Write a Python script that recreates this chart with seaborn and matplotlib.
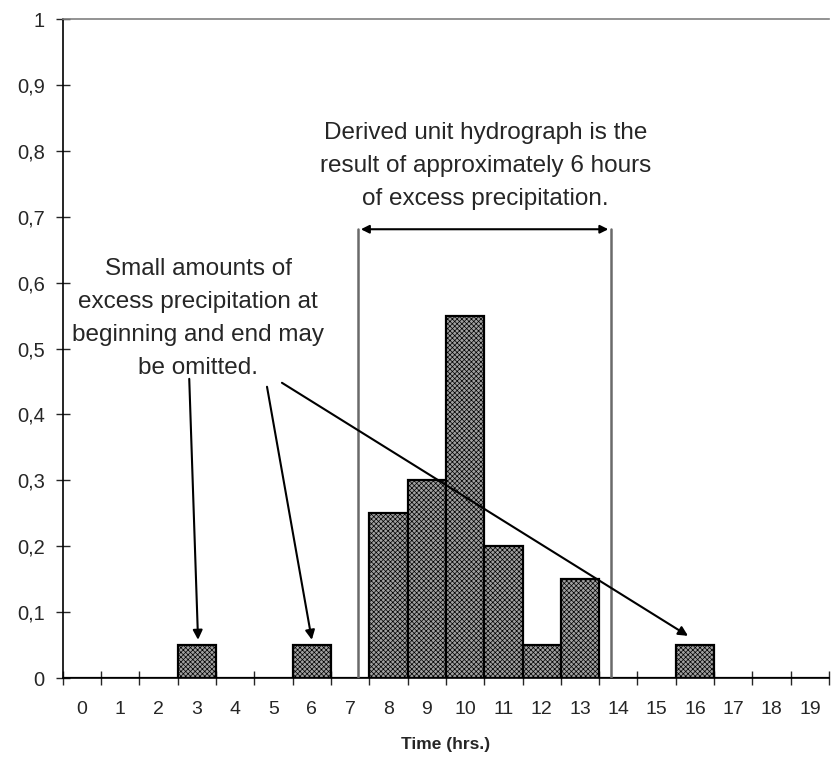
import matplotlib
matplotlib.use("Agg")
import matplotlib.pyplot as plt
import seaborn as sns
import pandas as pd
from matplotlib.ticker import FuncFormatter, FixedLocator

times = list(range(20))
excess = [0, 0, 0, 0.05, 0, 0, 0.05, 0, 0.25, 0.30, 0.55, 0.20, 0.05, 0.15, 0, 0, 0.05, 0, 0, 0]
y_ticks = [0, 0.1, 0.2, 0.3, 0.4, 0.5, 0.6, 0.7, 0.8, 0.9, 1.0]
note_right = "Derived unit hydrograph is the\nresult of approximately 6 hours\nof excess precipitation."
note_left = "Small amounts of\nexcess precipitation at\nbeginning and end may\nbe omitted."
x_label = "Time (hrs.)"

sns.set_style("white")
plt.rcParams['font.family'] = ['Liberation Sans', 'DejaVu Sans']
plt.rcParams['hatch.color'] = '#5c5c5c'
plt.rcParams['hatch.linewidth'] = 0.5

df = pd.DataFrame({"time": [str(t) for t in times], "excess": excess})

fig = plt.figure(figsize=(8.32, 7.58), dpi=100)
ax = fig.add_axes([0.0755, 0.1055, 0.9209, 0.8694])

sns.barplot(data=df, x="time", y="excess", order=[str(t) for t in times],
            color="#a0a0a0", width=1.0, edgecolor="black", linewidth=1.6,
            saturation=1, ax=ax)
for p in ax.patches:
    p.set_hatch("xxxxxxx")
    p.set_edgecolor("black")

ax.set_xlim(-0.5, 19.5)
ax.set_ylim(0, 1)

ax.set_yticks(y_ticks)
def fmt(v, pos):
    if abs(v - round(v)) < 1e-9:
        return str(int(round(v)))
    return ("%.1f" % v).replace(".", ",")
ax.yaxis.set_major_formatter(FuncFormatter(fmt))
ax.tick_params(axis="y", direction="inout", length=10, width=1, labelsize=14.5, pad=8, left=True)

ax.xaxis.set_minor_locator(FixedLocator([i + 0.5 for i in range(-1, 20)]))
ax.tick_params(axis="x", which="major", length=0, labelsize=14, pad=16.5)
ax.tick_params(axis="x", which="minor", direction="inout", length=10, width=1, bottom=True)

for s in ["left", "bottom"]:
    ax.spines[s].set_color("black")
    ax.spines[s].set_linewidth(1.2)
ax.spines["top"].set_color("#808080")
ax.spines["top"].set_linewidth(1.2)
ax.spines["right"].set_visible(False)

ax.set_xlabel(x_label, fontsize=12.5, fontweight="bold", labelpad=14)
ax.set_ylabel("")

# vertical bracket lines and double arrow
for xv in [7.21, 13.81]:
    ax.plot([xv, xv], [0, 0.681], color="#6a6a6a", lw=1.8, zorder=3)
ax.annotate("", xy=(7.28, 0.681), xytext=(13.74, 0.681),
            arrowprops=dict(arrowstyle="<|-|>", color="black", lw=1.5,
                            mutation_scale=12, shrinkA=0, shrinkB=0))

ax.text(10.53, 0.777, note_right, ha="center", va="center", fontsize=17.5,
        linespacing=1.65)
ax.text(3.03, 0.546, note_left, ha="center", va="center", fontsize=17.5,
        linespacing=1.65)

arrows = [((2.80, 0.454), (3.03, 0.058)),
          ((4.83, 0.442), (6.00, 0.058)),
          ((5.22, 0.448), (15.82, 0.064))]
for (x0, y0), (x1, y1) in arrows:
    ax.annotate("", xy=(x1, y1), xytext=(x0, y0),
                arrowprops=dict(arrowstyle="-|>", color="black", lw=1.5,
                                mutation_scale=14, shrinkA=0, shrinkB=0),
                zorder=5)

fig.savefig("out.png", dpi=100)
